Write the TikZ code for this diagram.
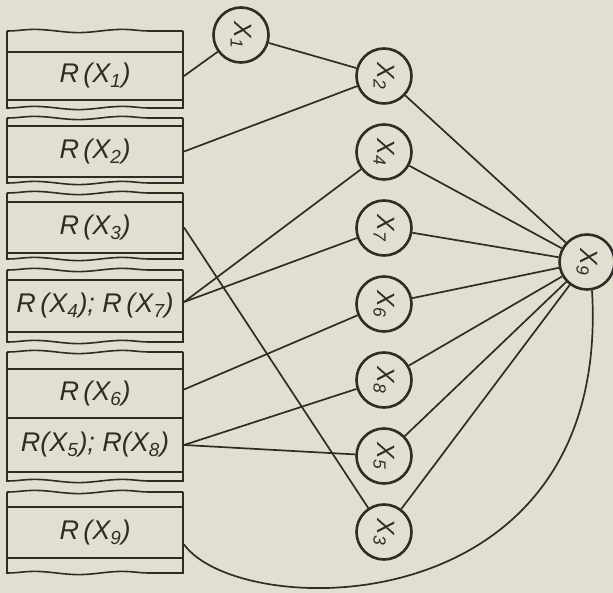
\documentclass[tikz,border=0pt]{standalone}
\usepackage{graphicx}
\usepackage{fontspec}
\setsansfont{Liberation Sans}
\usepackage{tikz}
\usetikzlibrary{arrows,positioning,decorations.pathmorphing}
\definecolor{paper}{RGB}{227,223,208}
\definecolor{ink}{RGB}{48,43,40}
\newcommand{\varlab}[1]{\rotatebox{-90}{X\textsubscript{#1}}}

\begin{document}
\begin{tikzpicture}[
    x=1pt, y=-1pt,
    node distance=76pt,
    font=\sffamily\itshape\fontsize{27}{30}\selectfont,
    row/.style={
		rectangle,
		draw=ink,
		line width=2.1pt,
		minimum width=176pt,
		inner sep=0pt,
		text=ink
	},
    var/.style={
		circle,
		draw=ink,
		line width=2.6pt,
		minimum size=55pt,
		inner sep=0pt,
		text=ink,
		font=\sffamily\itshape\fontsize{25}{27}\selectfont
	},
    link/.style={
		draw=ink,
		line width=1.7pt
	},
    edge/.style={
		draw=ink,
		line width=2pt
	},
    torn/.style={
		draw=ink,
		line width=1.6pt,
		decorate,
		decoration={snake, amplitude=1.6pt, segment length=88pt}
	}
  ]
  \useasboundingbox (0,0) rectangle (613,593);
  \fill [paper] (0,0) rectangle (613,593);

    % We start by placing the blocks
  \node [row, minimum height=48pt] (r1) at (95,76) {R\,(X\textsubscript{1})};
  \node [row, minimum height=51pt] (r2) at (95,151.5) {R\,(X\textsubscript{2})};
  \node [row, minimum height=51pt] (r3) at (95,227.5) {R\,(X\textsubscript{3})};
  \node [row, minimum height=52pt] (r47) at (95,306) {R\,(X\textsubscript{4}); R\,(X\textsubscript{7})};
  \node [row, minimum height=49pt] (r6) at (95,393.5) {R\,(X\textsubscript{6})};
  \node [row, minimum height=54pt] (r58) at (95,445) {R(X\textsubscript{5}); R(X\textsubscript{8})};
  \node [row, minimum height=51pt] (r9) at (95,532.5) {R\,(X\textsubscript{9})};

  % torn edges of the strips
  \foreach \a/\b in {31/52, 100/109, 118/126, 177/184, 193/202, 253/260, 270/280, 332/343, 352/369, 472/482, 492/507, 558/574}
    \draw [edge] (7,\a) -- (7,\b) (183,\a) -- (183,\b);
  \foreach \w in {31,108,118,183,193,259,270,342,352,481,492,573}
    \draw [torn] (7,\w) -- (183,\w);

  \node [var] (x1) at (241,35) {\varlab{1}};
  \node [var] (x2) at (384,76) {\varlab{2}};
  \node [var, below of=x2] (x4) {\varlab{4}};
  \node [var, below of=x4] (x7) {\varlab{7}};
  \node [var, below of=x7] (x6) {\varlab{6}};
  \node [var, below of=x6] (x8) {\varlab{8}};
  \node [var, below of=x8] (x5) {\varlab{5}};
  \node [var, below of=x5] (x3) {\varlab{3}};
  \node [var] (x9) at (587,262) {\varlab{9}};

  \draw [link] (r1.east) -- (x1);
  \draw [link] (x1) -- (x2);
  \draw [link] (r2.east) -- (x2);
  \draw [link] (r3.east) -- (x3);
  \draw [link] ([yshift=4pt]r47.east) -- (x4);
  \draw [link] ([yshift=4pt]r47.east) -- (x7);
  \draw [link] ([yshift=4pt]r6.east) -- (x6);
  \draw [link] (r58.east) -- (x8);
  \draw [link] (r58.east) -- (x5);
  \foreach \v in {2,4,7,6,8,5,3}
    \draw [link] (x\v) -- (x9);
  \draw [link] ([yshift=-12pt]r9.east) .. controls (240,622) and (612,628) .. (x9.-80);

\end{tikzpicture}
\end{document}
